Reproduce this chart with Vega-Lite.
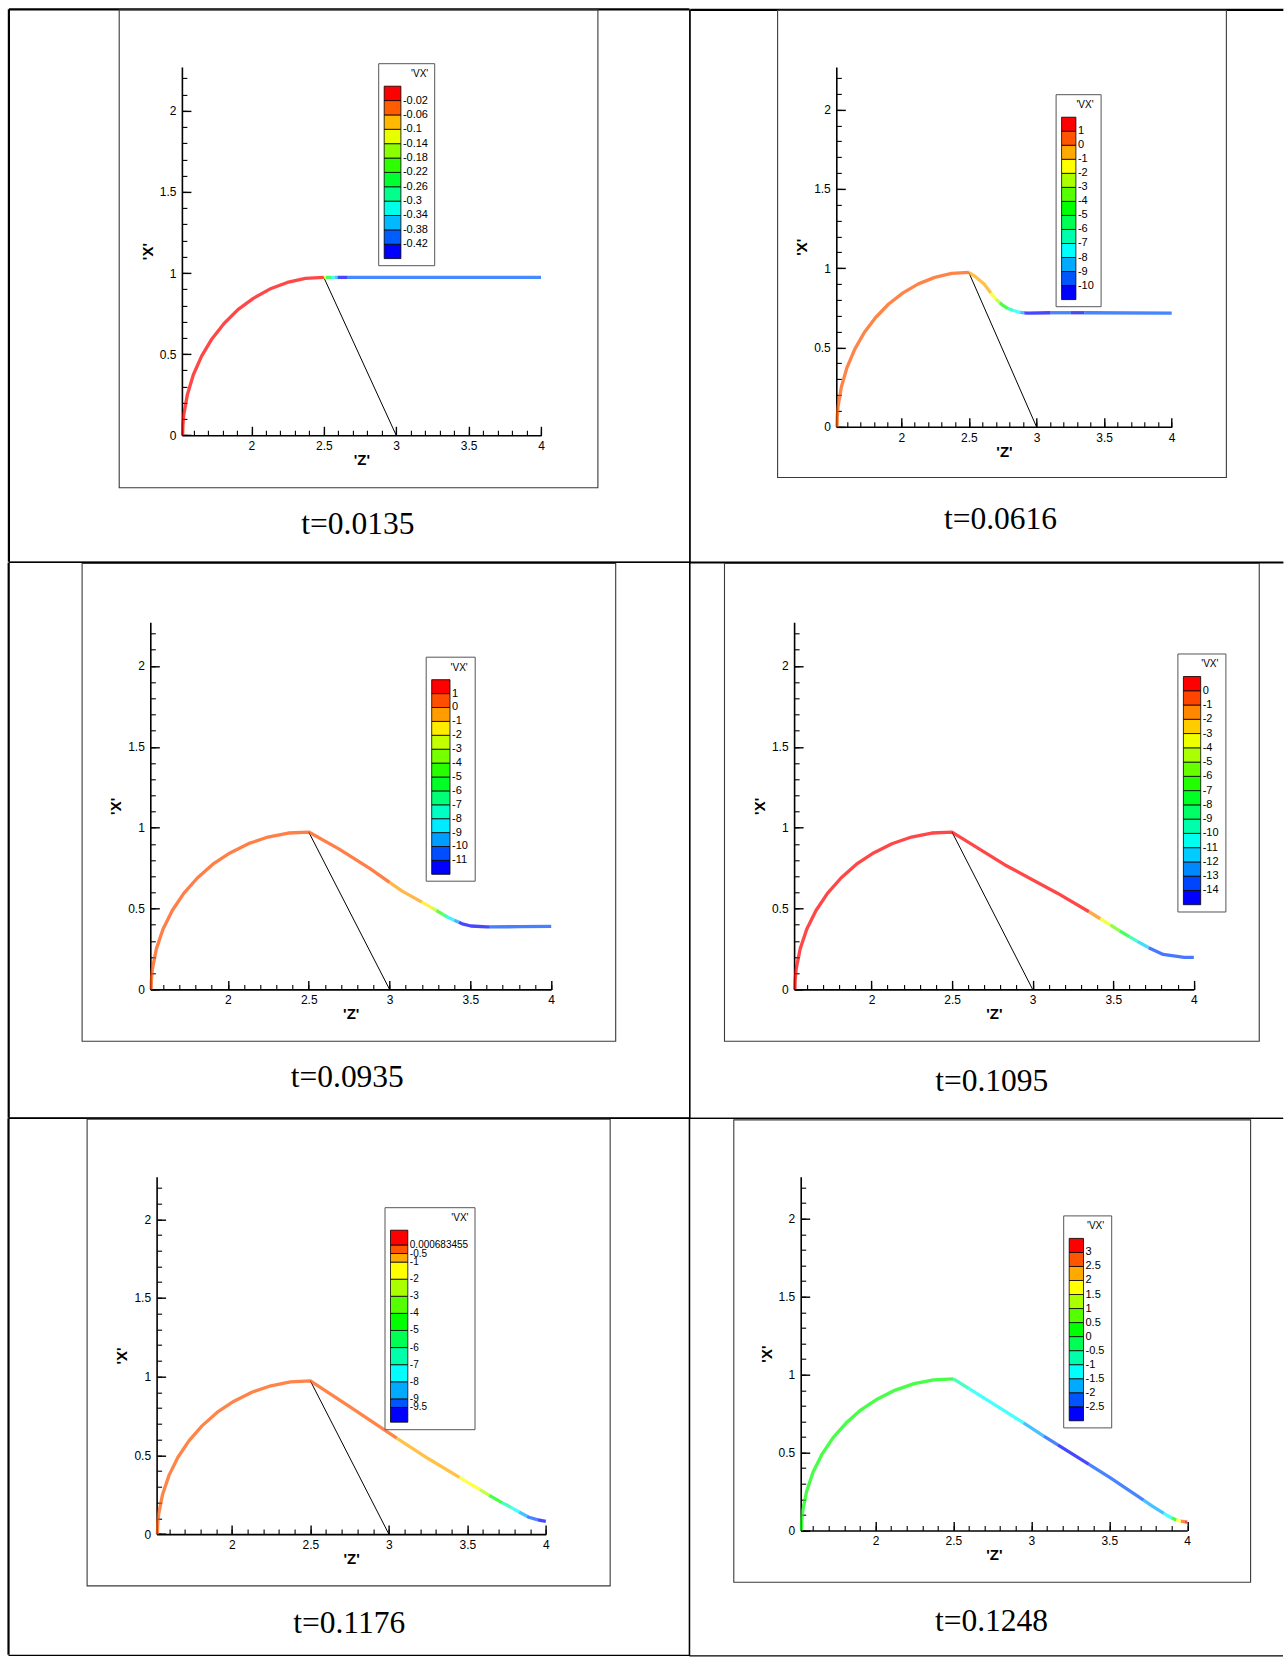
{
  "$schema": "https://vega.github.io/schema/vega-lite/v6.json",
  "background": "white",
  "padding": {"left": 6.5, "top": 7.9, "right": 0, "bottom": 0},
  "spacing": -2.6,
  "resolve": {"scale": {"x": "independent", "y": "independent", "color": "independent"}, "legend": {"color": "independent"}},
  "config": {
    "view": {"stroke": null},
    "axis": {"grid": false, "domainColor": "black", "domainWidth": 1.6, "tickColor": "black", "tickWidth": 1.4, "labelColor": "black", "labelFont": "Liberation Sans", "labelFontSize": 12, "titleColor": "black", "titleFont": "Liberation Sans", "titleFontSize": 15, "titleFontWeight": "bold", "labelFlush": false},
    "legend": {"labelFont": "Liberation Sans", "labelFontSize": 11, "labelColor": "black", "titleFont": "Liberation Sans", "titleFontSize": 10, "titleFontWeight": "normal", "titleColor": "black", "titleAnchor": "end", "titlePadding": 7, "padding": 6, "fillColor": "white", "strokeColor": "#555555", "labelOffset": 4, "labelOverlap": false, "gradientStrokeColor": "black", "gradientStrokeWidth": 0.8}
  },
  "datasets": {
    "link": [{"z": 2.5, "x": 0.973}, {"z": 3, "x": 0}],
    "c1": [
      {"s":"a","z":1.525,"x":0,"vx":-0.01},{"s":"a","z":1.527,"x":0.064,"vx":-0.01},{"s":"a","z":1.533,"x":0.127,"vx":-0.01},{"s":"a","z":1.558,"x":0.252,"vx":-0.01},{"s":"a","z":1.599,"x":0.373,"vx":-0.01},{"s":"a","z":1.656,"x":0.488,"vx":-0.01},{"s":"a","z":1.727,"x":0.594,"vx":-0.01},{"s":"a","z":1.811,"x":0.689,"vx":-0.01},{"s":"a","z":1.907,"x":0.774,"vx":-0.01},{"s":"a","z":2.013,"x":0.844,"vx":-0.01},{"s":"a","z":2.127,"x":0.901,"vx":-0.01},{"s":"a","z":2.248,"x":0.942,"vx":-0.01},{"s":"a","z":2.373,"x":0.967,"vx":-0.01},{"s":"a","z":2.5,"x":0.973,"vx":-0.01},
      {"s":"b","z":2.5,"x":0.973,"vx":-0.12},{"s":"b","z":2.515,"x":0.973,"vx":-0.12},
      {"s":"c","z":2.515,"x":0.973,"vx":-0.24},{"s":"c","z":2.55,"x":0.973,"vx":-0.24},
      {"s":"d","z":2.55,"x":0.973,"vx":-0.32},{"s":"d","z":2.575,"x":0.973,"vx":-0.32},
      {"s":"e","z":2.575,"x":0.973,"vx":-0.36},{"s":"e","z":2.595,"x":0.973,"vx":-0.36},
      {"s":"f","z":2.595,"x":0.973,"vx":-0.44},{"s":"f","z":2.665,"x":0.973,"vx":-0.44},
      {"s":"g","z":2.665,"x":0.973,"vx":-0.4},{"s":"g","z":4,"x":0.973,"vx":-0.4}
    ],
    "c2": [
      {"s":"a","z":1.525,"x":0,"vx":0.5},{"s":"a","z":1.527,"x":0.064,"vx":0.5},{"s":"a","z":1.533,"x":0.127,"vx":0.5},{"s":"a","z":1.558,"x":0.252,"vx":0.5},{"s":"a","z":1.599,"x":0.373,"vx":0.5},{"s":"a","z":1.656,"x":0.488,"vx":0.5},{"s":"a","z":1.727,"x":0.594,"vx":0.5},{"s":"a","z":1.811,"x":0.689,"vx":0.5},{"s":"a","z":1.907,"x":0.774,"vx":0.5},{"s":"a","z":2.013,"x":0.844,"vx":0.5},{"s":"a","z":2.127,"x":0.901,"vx":0.5},{"s":"a","z":2.248,"x":0.942,"vx":0.5},{"s":"a","z":2.373,"x":0.967,"vx":0.5},{"s":"a","z":2.5,"x":0.973,"vx":0.5},
      {"s":"b","z":2.5,"x":0.973,"vx":-0.5},{"s":"b","z":2.54,"x":0.952,"vx":-0.5},{"s":"b","z":2.613,"x":0.9,"vx":-0.5},{"s":"b","z":2.663,"x":0.843,"vx":-0.5},
      {"s":"c","z":2.663,"x":0.843,"vx":-1.5},{"s":"c","z":2.7,"x":0.805,"vx":-1.5},
      {"s":"d","z":2.7,"x":0.805,"vx":-2.5},{"s":"d","z":2.73,"x":0.782,"vx":-2.5},
      {"s":"e","z":2.73,"x":0.782,"vx":-4.5},{"s":"e","z":2.749,"x":0.767,"vx":-4.5},{"s":"e","z":2.79,"x":0.745,"vx":-4.5},
      {"s":"f","z":2.79,"x":0.745,"vx":-6.5},{"s":"f","z":2.83,"x":0.733,"vx":-6.5},
      {"s":"g","z":2.83,"x":0.733,"vx":-7.5},{"s":"g","z":2.86,"x":0.725,"vx":-7.5},{"s":"g","z":2.88,"x":0.721,"vx":-7.5},
      {"s":"h","z":2.88,"x":0.721,"vx":-8.5},{"s":"h","z":2.91,"x":0.718,"vx":-8.5},
      {"s":"i","z":2.91,"x":0.718,"vx":-10.3},{"s":"i","z":2.934,"x":0.717,"vx":-10.3},{"s":"i","z":3.105,"x":0.719,"vx":-10.3},
      {"s":"j","z":3.105,"x":0.719,"vx":-9.5},{"s":"j","z":3.255,"x":0.719,"vx":-9.5},
      {"s":"k","z":3.255,"x":0.719,"vx":-10.3},{"s":"k","z":3.353,"x":0.719,"vx":-10.3},
      {"s":"l","z":3.353,"x":0.719,"vx":-9.5},{"s":"l","z":4,"x":0.717,"vx":-9.5}
    ],
    "c3": [
      {"s":"a","z":1.525,"x":0,"vx":0.5},{"s":"a","z":1.527,"x":0.064,"vx":0.5},{"s":"a","z":1.533,"x":0.127,"vx":0.5},{"s":"a","z":1.558,"x":0.252,"vx":0.5},{"s":"a","z":1.599,"x":0.373,"vx":0.5},{"s":"a","z":1.656,"x":0.488,"vx":0.5},{"s":"a","z":1.727,"x":0.594,"vx":0.5},{"s":"a","z":1.811,"x":0.689,"vx":0.5},{"s":"a","z":1.907,"x":0.774,"vx":0.5},{"s":"a","z":2.013,"x":0.844,"vx":0.5},{"s":"a","z":2.127,"x":0.901,"vx":0.5},{"s":"a","z":2.248,"x":0.942,"vx":0.5},{"s":"a","z":2.373,"x":0.967,"vx":0.5},{"s":"a","z":2.5,"x":0.973,"vx":0.5},{"s":"a","z":2.686,"x":0.869,"vx":0.5},{"s":"a","z":2.882,"x":0.745,"vx":0.5},{"s":"a","z":3.0,"x":0.662,"vx":0.5},
      {"s":"b","z":3.0,"x":0.662,"vx":-0.5},{"s":"b","z":3.078,"x":0.608,"vx":-0.5},{"s":"b","z":3.2,"x":0.54,"vx":-0.5},
      {"s":"c","z":3.2,"x":0.54,"vx":-1.5},{"s":"c","z":3.26,"x":0.506,"vx":-1.5},
      {"s":"d","z":3.26,"x":0.506,"vx":-2.5},{"s":"d","z":3.29,"x":0.488,"vx":-2.5},
      {"s":"e","z":3.29,"x":0.488,"vx":-4.5},{"s":"e","z":3.33,"x":0.464,"vx":-4.5},
      {"s":"f","z":3.33,"x":0.464,"vx":-6.5},{"s":"f","z":3.36,"x":0.446,"vx":-6.5},
      {"s":"g","z":3.36,"x":0.446,"vx":-8.5},{"s":"g","z":3.4,"x":0.428,"vx":-8.5},
      {"s":"h","z":3.4,"x":0.428,"vx":-9.5},{"s":"h","z":3.43,"x":0.415,"vx":-9.5},
      {"s":"i","z":3.43,"x":0.415,"vx":-11.3},{"s":"i","z":3.45,"x":0.405,"vx":-11.3},{"s":"i","z":3.503,"x":0.392,"vx":-11.3},{"s":"i","z":3.601,"x":0.386,"vx":-11.3},{"s":"i","z":3.62,"x":0.386,"vx":-11.3},
      {"s":"j","z":3.62,"x":0.386,"vx":-10.5},{"s":"j","z":3.8,"x":0.388,"vx":-10.5},{"s":"j","z":4,"x":0.39,"vx":-10.5}
    ],
    "c4": [
      {"s":"a","z":1.525,"x":0,"vx":0.3},{"s":"a","z":1.527,"x":0.064,"vx":0.3},{"s":"a","z":1.533,"x":0.127,"vx":0.3},{"s":"a","z":1.558,"x":0.252,"vx":0.3},{"s":"a","z":1.599,"x":0.373,"vx":0.3},{"s":"a","z":1.656,"x":0.488,"vx":0.3},{"s":"a","z":1.727,"x":0.594,"vx":0.3},{"s":"a","z":1.811,"x":0.689,"vx":0.3},{"s":"a","z":1.907,"x":0.774,"vx":0.3},{"s":"a","z":2.013,"x":0.844,"vx":0.3},{"s":"a","z":2.127,"x":0.901,"vx":0.3},{"s":"a","z":2.248,"x":0.942,"vx":0.3},{"s":"a","z":2.373,"x":0.967,"vx":0.3},{"s":"a","z":2.5,"x":0.973,"vx":0.3},{"s":"a","z":2.826,"x":0.771,"vx":0.3},{"s":"a","z":3.154,"x":0.595,"vx":0.3},{"s":"a","z":3.35,"x":0.48,"vx":0.3},
      {"s":"b","z":3.35,"x":0.48,"vx":-1.5},{"s":"b","z":3.42,"x":0.437,"vx":-1.5},
      {"s":"c","z":3.42,"x":0.437,"vx":-3.5},{"s":"c","z":3.482,"x":0.399,"vx":-3.5},
      {"s":"d","z":3.482,"x":0.399,"vx":-5.5},{"s":"d","z":3.54,"x":0.362,"vx":-5.5},
      {"s":"e","z":3.54,"x":0.362,"vx":-7.5},{"s":"e","z":3.6,"x":0.326,"vx":-7.5},
      {"s":"f","z":3.6,"x":0.326,"vx":-9.5},{"s":"f","z":3.65,"x":0.297,"vx":-9.5},
      {"s":"g","z":3.65,"x":0.297,"vx":-11.5},{"s":"g","z":3.679,"x":0.281,"vx":-11.5},{"s":"g","z":3.72,"x":0.258,"vx":-11.5},
      {"s":"h","z":3.72,"x":0.258,"vx":-13.5},{"s":"h","z":3.81,"x":0.216,"vx":-13.5},{"s":"h","z":3.94,"x":0.198,"vx":-13.5},{"s":"h","z":4,"x":0.198,"vx":-13.5}
    ],
    "c5": [
      {"s":"a","z":1.525,"x":0,"vx":-0.25},{"s":"a","z":1.527,"x":0.064,"vx":-0.25},{"s":"a","z":1.533,"x":0.127,"vx":-0.25},{"s":"a","z":1.558,"x":0.252,"vx":-0.25},{"s":"a","z":1.599,"x":0.373,"vx":-0.25},{"s":"a","z":1.656,"x":0.488,"vx":-0.25},{"s":"a","z":1.727,"x":0.594,"vx":-0.25},{"s":"a","z":1.811,"x":0.689,"vx":-0.25},{"s":"a","z":1.907,"x":0.774,"vx":-0.25},{"s":"a","z":2.013,"x":0.844,"vx":-0.25},{"s":"a","z":2.127,"x":0.901,"vx":-0.25},{"s":"a","z":2.248,"x":0.942,"vx":-0.25},{"s":"a","z":2.373,"x":0.967,"vx":-0.25},{"s":"a","z":2.5,"x":0.973,"vx":-0.25},{"s":"a","z":2.75,"x":0.81,"vx":-0.25},{"s":"a","z":3.05,"x":0.61,"vx":-0.25},
      {"s":"b","z":3.05,"x":0.61,"vx":-0.75},{"s":"b","z":3.25,"x":0.48,"vx":-0.75},{"s":"b","z":3.45,"x":0.36,"vx":-0.75},
      {"s":"c","z":3.45,"x":0.36,"vx":-1.5},{"s":"c","z":3.502,"x":0.329,"vx":-1.5},{"s":"c","z":3.58,"x":0.283,"vx":-1.5},
      {"s":"d","z":3.58,"x":0.283,"vx":-2.5},{"s":"d","z":3.64,"x":0.246,"vx":-2.5},
      {"s":"e","z":3.64,"x":0.246,"vx":-4.5},{"s":"e","z":3.72,"x":0.2,"vx":-4.5},
      {"s":"f","z":3.72,"x":0.2,"vx":-6.5},{"s":"f","z":3.758,"x":0.181,"vx":-6.5},{"s":"f","z":3.78,"x":0.168,"vx":-6.5},
      {"s":"g","z":3.78,"x":0.168,"vx":-7.5},{"s":"g","z":3.83,"x":0.14,"vx":-7.5},
      {"s":"h","z":3.83,"x":0.14,"vx":-8.5},{"s":"h","z":3.88,"x":0.113,"vx":-8.5},
      {"s":"i","z":3.88,"x":0.113,"vx":-9.2},{"s":"i","z":3.892,"x":0.107,"vx":-9.2},{"s":"i","z":3.95,"x":0.09,"vx":-9.2},
      {"s":"j","z":3.95,"x":0.09,"vx":-9.7},{"s":"j","z":4,"x":0.081,"vx":-9.7}
    ],
    "c6": [
      {"s":"a","z":1.525,"x":0,"vx":0.25},{"s":"a","z":1.527,"x":0.064,"vx":0.25},{"s":"a","z":1.533,"x":0.127,"vx":0.25},{"s":"a","z":1.558,"x":0.252,"vx":0.25},{"s":"a","z":1.599,"x":0.373,"vx":0.25},{"s":"a","z":1.656,"x":0.488,"vx":0.25},{"s":"a","z":1.727,"x":0.594,"vx":0.25},{"s":"a","z":1.811,"x":0.689,"vx":0.25},{"s":"a","z":1.907,"x":0.774,"vx":0.25},{"s":"a","z":2.013,"x":0.844,"vx":0.25},{"s":"a","z":2.127,"x":0.901,"vx":0.25},{"s":"a","z":2.248,"x":0.942,"vx":0.25},{"s":"a","z":2.373,"x":0.967,"vx":0.25},{"s":"a","z":2.5,"x":0.973,"vx":0.25},
      {"s":"b","z":2.5,"x":0.973,"vx":-0.75},{"s":"b","z":2.6,"x":0.91,"vx":-0.75},
      {"s":"c","z":2.6,"x":0.91,"vx":-1.25},{"s":"c","z":2.8,"x":0.785,"vx":-1.25},{"s":"c","z":2.95,"x":0.69,"vx":-1.25},
      {"s":"d","z":2.95,"x":0.69,"vx":-1.75},{"s":"d","z":3.08,"x":0.605,"vx":-1.75},
      {"s":"e","z":3.08,"x":0.605,"vx":-2.25},{"s":"e","z":3.17,"x":0.549,"vx":-2.25},
      {"s":"f","z":3.17,"x":0.549,"vx":-2.75},{"s":"f","z":3.37,"x":0.424,"vx":-2.75},
      {"s":"g","z":3.37,"x":0.424,"vx":-2.25},{"s":"g","z":3.505,"x":0.339,"vx":-2.25},{"s":"g","z":3.72,"x":0.195,"vx":-2.25},
      {"s":"h","z":3.72,"x":0.195,"vx":-1.75},{"s":"h","z":3.776,"x":0.156,"vx":-1.75},{"s":"h","z":3.85,"x":0.11,"vx":-1.75},
      {"s":"i","z":3.85,"x":0.11,"vx":-1.25},{"s":"i","z":3.9,"x":0.08,"vx":-1.25},
      {"s":"j","z":3.9,"x":0.08,"vx":0.25},{"s":"j","z":3.93,"x":0.068,"vx":0.25},
      {"s":"k","z":3.93,"x":0.068,"vx":1.75},{"s":"k","z":3.96,"x":0.06,"vx":1.75},
      {"s":"l","z":3.96,"x":0.06,"vx":2.75},{"s":"l","z":3.985,"x":0.056,"vx":2.75},
      {"s":"m","z":3.985,"x":0.056,"vx":3.2},{"s":"m","z":4,"x":0.054,"vx":3.2}
    ]
  },
  "vconcat": [
    {
      "spacing": -2.6,
      "resolve": {"scale": {"x": "independent", "y": "independent", "color": "independent"}, "legend": {"color": "independent"}},
      "hconcat": [
        {"width": 2, "height": 1, "data": {"values": []}, "mark": "point", "encoding": {}},
        {
          "width": 359.1, "height": 368.4,
          "data": {"values": [{}]},
          "resolve": {"axis": {"x": "independent", "y": "independent"}},
          "layer": [
            {"mark": {"type": "rule", "color": "black", "strokeWidth": 2.2}, "encoding": {"x": {"datum": 0.3252, "type": "quantitative", "scale": {"domain": [1.52, 4], "nice": false, "zero": false}, "axis": null}, "x2": {"datum": 5.0252}, "y": {"datum": 2.6248, "type": "quantitative", "scale": {"domain": [0, 2.27], "nice": false, "zero": false}, "axis": null}}},
            {"mark": {"type": "rule", "color": "black", "strokeWidth": 2.2}, "encoding": {"x": {"datum": 0.3252, "type": "quantitative", "scale": {"domain": [1.52, 4], "nice": false, "zero": false}, "axis": null}, "y": {"datum": -0.7797, "type": "quantitative", "scale": {"domain": [0, 2.27], "nice": false, "zero": false}, "axis": null}, "y2": {"datum": 2.6248}}},
            {"mark": {"type": "rule", "color": "black", "strokeWidth": 1.3}, "encoding": {"x": {"datum": 5.0283, "type": "quantitative", "scale": {"domain": [1.52, 4], "nice": false, "zero": false}, "axis": null}, "y": {"datum": -0.7825, "type": "quantitative", "scale": {"domain": [0, 2.27], "nice": false, "zero": false}, "axis": null}, "y2": {"datum": 2.6248}}},
            {"mark": {"type": "rule", "color": "black", "strokeWidth": 1.3}, "encoding": {"x": {"datum": 0.3252, "type": "quantitative", "scale": {"domain": [1.52, 4], "nice": false, "zero": false}, "axis": null}, "x2": {"datum": 5.0283}, "y": {"datum": -0.7825, "type": "quantitative", "scale": {"domain": [0, 2.27], "nice": false, "zero": false}, "axis": null}}},
            {"mark": {"type": "rect", "filled": false, "stroke": "#3a3a3a", "strokeWidth": 1.1}, "encoding": {"x": {"datum": 1.087, "type": "quantitative", "scale": {"domain": [1.52, 4], "nice": false, "zero": false}, "axis": {"orient": "bottom", "title": null, "labels": false, "domain": false, "tickCount": 25, "tickSize": -5, "tickWidth": 1.1}}, "x2": {"datum": 4.3929}, "y": {"datum": -0.3235, "type": "quantitative", "scale": {"domain": [0, 2.27], "nice": false, "zero": false}, "axis": {"orient": "left", "title": null, "labels": false, "domain": false, "tickCount": 23, "tickSize": -5, "tickWidth": 1.1}}, "y2": {"datum": 2.6217}}},
            {"mark": {"type": "text", "font": "Liberation Serif", "fontSize": 31.5, "align": "center", "baseline": "middle", "color": "black"}, "encoding": {"x": {"datum": 2.7355, "type": "quantitative", "scale": {"domain": [1.52, 4], "nice": false, "zero": false}, "axis": null}, "y": {"datum": -0.5545, "type": "quantitative", "scale": {"domain": [0, 2.27], "nice": false, "zero": false}, "axis": null}, "text": {"value": "t=0.0135"}}},
            {"data": {"name": "link"}, "mark": {"type": "line", "color": "black", "strokeWidth": 1}, "encoding": {"x": {"field": "z", "type": "quantitative", "scale": {"domain": [1.52, 4], "nice": false, "zero": false}, "axis": null}, "y": {"field": "x", "type": "quantitative", "scale": {"domain": [0, 2.27], "nice": false, "zero": false}, "axis": null}}},
            {"data": {"name": "c1"}, "mark": {"type": "line", "strokeWidth": 3.3, "strokeOpacity": 0.72, "strokeCap": "butt", "strokeJoin": "round"},
             "encoding": {
               "x": {"field": "z", "type": "quantitative", "scale": {"domain": [1.52, 4], "nice": false, "zero": false}, "axis": {"orient": "bottom", "title": "'Z'", "tickCount": 5, "format": "~g", "tickSize": -9, "labelPadding": 14.5, "titlePadding": 1}},
               "y": {"field": "x", "type": "quantitative", "scale": {"domain": [0, 2.27], "nice": false, "zero": false}, "axis": {"orient": "left", "title": "'X'", "tickCount": 5, "format": "~g", "tickSize": -9, "labelPadding": 15, "titlePadding": 4}},
               "detail": {"field": "s", "type": "nominal"},
               "color": {"field": "vx", "type": "quantitative",
                 "scale": {"type": "threshold", "domain": [-0.42, -0.38, -0.34, -0.3, -0.26, -0.22, -0.18, -0.14, -0.1, -0.06, -0.02], "range": ["#0000ff", "#005dff", "#00b9ff", "#00ffe8", "#00ff8b", "#00ff2e", "#2eff00", "#8bff00", "#e8ff00", "#ffb900", "#ff5d00", "#ff0000"]},
                 "legend": {"type": "gradient", "title": "'VX'", "orient": "none", "legendX": 196.3, "legendY": -3.7, "direction": "vertical", "gradientLength": 172.4, "gradientThickness": 16.7, "format": "~g", "labelExpr": "datum.value == null || !isFinite(datum.value) ? '' : replace(datum.label, '−', '-')", "encode": {"gradient": {"opacity": {"value": 1}, "stroke": {"value": "black"}, "strokeWidth": {"value": 0.8}}}}}
             }}
          ]
        },
        {
          "width": 335.4, "height": 359.8,
          "data": {"values": [{}]},
          "resolve": {"axis": {"x": "independent", "y": "independent"}},
          "layer": [
            {"mark": {"type": "rule", "color": "black", "strokeWidth": 2.2}, "encoding": {"x": {"datum": 0.4409, "type": "quantitative", "scale": {"domain": [1.52, 4], "nice": false, "zero": false}, "axis": null}, "x2": {"datum": 4.8257}, "y": {"datum": 2.63, "type": "quantitative", "scale": {"domain": [0, 2.27], "nice": false, "zero": false}, "axis": null}}},
            {"mark": {"type": "rule", "color": "black", "strokeWidth": 1.3}, "encoding": {"x": {"datum": 0.4376, "type": "quantitative", "scale": {"domain": [1.52, 4], "nice": false, "zero": false}, "axis": null}, "y": {"datum": -0.859, "type": "quantitative", "scale": {"domain": [0, 2.27], "nice": false, "zero": false}, "axis": null}, "y2": {"datum": 2.63}}},
            {"mark": {"type": "rule", "color": "black", "strokeWidth": 1.3}, "encoding": {"x": {"datum": 0.4376, "type": "quantitative", "scale": {"domain": [1.52, 4], "nice": false, "zero": false}, "axis": null}, "x2": {"datum": 4.8257}, "y": {"datum": -0.859, "type": "quantitative", "scale": {"domain": [0, 2.27], "nice": false, "zero": false}, "axis": null}}},
            {"mark": {"type": "rect", "filled": false, "stroke": "#3a3a3a", "strokeWidth": 1.1}, "encoding": {"x": {"datum": 1.086, "type": "quantitative", "scale": {"domain": [1.52, 4], "nice": false, "zero": false}, "axis": {"orient": "bottom", "title": null, "labels": false, "domain": false, "tickCount": 25, "tickSize": -5, "tickWidth": 1.1}}, "x2": {"datum": 4.4043}, "y": {"datum": -0.3202, "type": "quantitative", "scale": {"domain": [0, 2.27], "nice": false, "zero": false}, "axis": {"orient": "left", "title": null, "labels": false, "domain": false, "tickCount": 23, "tickSize": -5, "tickWidth": 1.1}}, "y2": {"datum": 2.6268}}},
            {"mark": {"type": "text", "font": "Liberation Serif", "fontSize": 31.5, "align": "center", "baseline": "middle", "color": "black"}, "encoding": {"x": {"datum": 2.7341, "type": "quantitative", "scale": {"domain": [1.52, 4], "nice": false, "zero": false}, "axis": null}, "y": {"datum": -0.5864, "type": "quantitative", "scale": {"domain": [0, 2.27], "nice": false, "zero": false}, "axis": null}, "text": {"value": "t=0.0616"}}},
            {"data": {"name": "link"}, "mark": {"type": "line", "color": "black", "strokeWidth": 1}, "encoding": {"x": {"field": "z", "type": "quantitative", "scale": {"domain": [1.52, 4], "nice": false, "zero": false}, "axis": null}, "y": {"field": "x", "type": "quantitative", "scale": {"domain": [0, 2.27], "nice": false, "zero": false}, "axis": null}}},
            {"data": {"name": "c2"}, "mark": {"type": "line", "strokeWidth": 3.3, "strokeOpacity": 0.72, "strokeCap": "butt", "strokeJoin": "round"},
             "encoding": {
               "x": {"field": "z", "type": "quantitative", "scale": {"domain": [1.52, 4], "nice": false, "zero": false}, "axis": {"orient": "bottom", "title": "'Z'", "tickCount": 5, "format": "~g", "tickSize": -9, "labelPadding": 14.5, "titlePadding": 1}},
               "y": {"field": "x", "type": "quantitative", "scale": {"domain": [0, 2.27], "nice": false, "zero": false}, "axis": {"orient": "left", "title": "'X'", "tickCount": 5, "format": "~g", "tickSize": -9, "labelPadding": 15, "titlePadding": 4}},
               "detail": {"field": "s", "type": "nominal"},
               "color": {"field": "vx", "type": "quantitative",
                 "scale": {"type": "threshold", "domain": [-10, -9, -8, -7, -6, -5, -4, -3, -2, -1, 0, 1], "range": ["#0000ff", "#0055ff", "#00aaff", "#00ffff", "#00ffaa", "#00ff55", "#00ff00", "#55ff00", "#aaff00", "#ffff00", "#ffaa00", "#ff5500", "#ff0000"]},
                 "legend": {"type": "gradient", "title": "'VX'", "orient": "none", "legendX": 219.3, "legendY": 27.3, "direction": "vertical", "gradientLength": 182.4, "gradientThickness": 14.3, "format": "~g", "labelExpr": "datum.value == null || !isFinite(datum.value) ? '' : replace(datum.label, '−', '-')", "encode": {"gradient": {"opacity": {"value": 1}, "stroke": {"value": "black"}, "strokeWidth": {"value": 0.8}}}}}
             }}
          ]
        }
      ]
    },
    {
      "spacing": -3.2,
      "resolve": {"scale": {"x": "independent", "y": "independent", "color": "independent"}, "legend": {"color": "independent"}},
      "hconcat": [
        {"width": 3, "height": 1, "data": {"values": []}, "mark": "point", "encoding": {}},
        {
          "width": 400.9, "height": 367.1,
          "data": {"values": [{}]},
          "resolve": {"axis": {"x": "independent", "y": "independent"}},
          "layer": [
            {"mark": {"type": "rule", "color": "black", "strokeWidth": 1.3}, "encoding": {"x": {"datum": 0.644, "type": "quantitative", "scale": {"domain": [1.52, 4], "nice": false, "zero": false}, "axis": null}, "x2": {"datum": 4.8568}, "y": {"datum": 2.6413, "type": "quantitative", "scale": {"domain": [0, 2.27], "nice": false, "zero": false}, "axis": null}}},
            {"mark": {"type": "rule", "color": "black", "strokeWidth": 2.2}, "encoding": {"x": {"datum": 0.644, "type": "quantitative", "scale": {"domain": [1.52, 4], "nice": false, "zero": false}, "axis": null}, "y": {"datum": -0.7944, "type": "quantitative", "scale": {"domain": [0, 2.27], "nice": false, "zero": false}, "axis": null}, "y2": {"datum": 2.6385}}},
            {"mark": {"type": "rule", "color": "black", "strokeWidth": 1.3}, "encoding": {"x": {"datum": 4.8568, "type": "quantitative", "scale": {"domain": [1.52, 4], "nice": false, "zero": false}, "axis": null}, "y": {"datum": -0.7972, "type": "quantitative", "scale": {"domain": [0, 2.27], "nice": false, "zero": false}, "axis": null}, "y2": {"datum": 2.6413}}},
            {"mark": {"type": "rule", "color": "black", "strokeWidth": 1.3}, "encoding": {"x": {"datum": 0.644, "type": "quantitative", "scale": {"domain": [1.52, 4], "nice": false, "zero": false}, "axis": null}, "x2": {"datum": 4.8568}, "y": {"datum": -0.7972, "type": "quantitative", "scale": {"domain": [0, 2.27], "nice": false, "zero": false}, "axis": null}}},
            {"mark": {"type": "rect", "filled": false, "stroke": "#3a3a3a", "strokeWidth": 1.1}, "encoding": {"x": {"datum": 1.0981, "type": "quantitative", "scale": {"domain": [1.52, 4], "nice": false, "zero": false}, "axis": {"orient": "bottom", "title": null, "labels": false, "domain": false, "tickCount": 25, "tickSize": -5, "tickWidth": 1.1}}, "x2": {"datum": 4.399}, "y": {"datum": -0.3203, "type": "quantitative", "scale": {"domain": [0, 2.27], "nice": false, "zero": false}, "axis": {"orient": "left", "title": null, "labels": false, "domain": false, "tickCount": 23, "tickSize": -5, "tickWidth": 1.1}}, "y2": {"datum": 2.6339}}},
            {"mark": {"type": "text", "font": "Liberation Serif", "fontSize": 31.5, "align": "center", "baseline": "middle", "color": "black"}, "encoding": {"x": {"datum": 2.7387, "type": "quantitative", "scale": {"domain": [1.52, 4], "nice": false, "zero": false}, "axis": null}, "y": {"datum": -0.5485, "type": "quantitative", "scale": {"domain": [0, 2.27], "nice": false, "zero": false}, "axis": null}, "text": {"value": "t=0.0935"}}},
            {"data": {"name": "link"}, "mark": {"type": "line", "color": "black", "strokeWidth": 1}, "encoding": {"x": {"field": "z", "type": "quantitative", "scale": {"domain": [1.52, 4], "nice": false, "zero": false}, "axis": null}, "y": {"field": "x", "type": "quantitative", "scale": {"domain": [0, 2.27], "nice": false, "zero": false}, "axis": null}}},
            {"data": {"name": "c3"}, "mark": {"type": "line", "strokeWidth": 3.3, "strokeOpacity": 0.72, "strokeCap": "butt", "strokeJoin": "round"},
             "encoding": {
               "x": {"field": "z", "type": "quantitative", "scale": {"domain": [1.52, 4], "nice": false, "zero": false}, "axis": {"orient": "bottom", "title": "'Z'", "tickCount": 5, "format": "~g", "tickSize": -9, "labelPadding": 14.5, "titlePadding": 1}},
               "y": {"field": "x", "type": "quantitative", "scale": {"domain": [0, 2.27], "nice": false, "zero": false}, "axis": {"orient": "left", "title": "'X'", "tickCount": 5, "format": "~g", "tickSize": -9, "labelPadding": 15, "titlePadding": 4}},
               "detail": {"field": "s", "type": "nominal"},
               "color": {"field": "vx", "type": "quantitative",
                 "scale": {"type": "threshold", "domain": [-11, -10, -9, -8, -7, -6, -5, -4, -3, -2, -1, 0, 1], "range": ["#0000ff", "#004eff", "#009dff", "#00ebff", "#00ffc4", "#00ff76", "#00ff27", "#27ff00", "#76ff00", "#c4ff00", "#ffeb00", "#ff9d00", "#ff4e00", "#ff0000"]},
                 "legend": {"type": "gradient", "title": "'VX'", "orient": "none", "legendX": 275.4, "legendY": 34.4, "direction": "vertical", "gradientLength": 194.6, "gradientThickness": 18.3, "format": "~g", "labelExpr": "datum.value == null || !isFinite(datum.value) ? '' : replace(datum.label, '−', '-')", "encode": {"gradient": {"opacity": {"value": 1}, "stroke": {"value": "black"}, "strokeWidth": {"value": 0.8}}}}}
             }}
          ]
        },
        {
          "width": 399.7, "height": 367.1,
          "data": {"values": [{}]},
          "resolve": {"axis": {"x": "independent", "y": "independent"}},
          "layer": [
            {"mark": {"type": "rule", "color": "black", "strokeWidth": 1.3}, "encoding": {"x": {"datum": 0.8722, "type": "quantitative", "scale": {"domain": [1.52, 4], "nice": false, "zero": false}, "axis": null}, "x2": {"datum": 4.5551}, "y": {"datum": 2.6413, "type": "quantitative", "scale": {"domain": [0, 2.27], "nice": false, "zero": false}, "axis": null}}},
            {"mark": {"type": "rule", "color": "black", "strokeWidth": 1.3}, "encoding": {"x": {"datum": 0.8722, "type": "quantitative", "scale": {"domain": [1.52, 4], "nice": false, "zero": false}, "axis": null}, "y": {"datum": -0.7972, "type": "quantitative", "scale": {"domain": [0, 2.27], "nice": false, "zero": false}, "axis": null}, "y2": {"datum": 2.6413}}},
            {"mark": {"type": "rule", "color": "black", "strokeWidth": 1.3}, "encoding": {"x": {"datum": 0.8722, "type": "quantitative", "scale": {"domain": [1.52, 4], "nice": false, "zero": false}, "axis": null}, "x2": {"datum": 4.5551}, "y": {"datum": -0.7972, "type": "quantitative", "scale": {"domain": [0, 2.27], "nice": false, "zero": false}, "axis": null}}},
            {"mark": {"type": "rect", "filled": false, "stroke": "#3a3a3a", "strokeWidth": 1.1}, "encoding": {"x": {"datum": 1.0881, "type": "quantitative", "scale": {"domain": [1.52, 4], "nice": false, "zero": false}, "axis": {"orient": "bottom", "title": null, "labels": false, "domain": false, "tickCount": 25, "tickSize": -5, "tickWidth": 1.1}}, "x2": {"datum": 4.4061}, "y": {"datum": -0.321, "type": "quantitative", "scale": {"domain": [0, 2.27], "nice": false, "zero": false}, "axis": {"orient": "left", "title": null, "labels": false, "domain": false, "tickCount": 23, "tickSize": -5, "tickWidth": 1.1}}, "y2": {"datum": 2.6339}}},
            {"mark": {"type": "text", "font": "Liberation Serif", "fontSize": 31.5, "align": "center", "baseline": "middle", "color": "black"}, "encoding": {"x": {"datum": 2.7462, "type": "quantitative", "scale": {"domain": [1.52, 4], "nice": false, "zero": false}, "axis": null}, "y": {"datum": -0.5745, "type": "quantitative", "scale": {"domain": [0, 2.27], "nice": false, "zero": false}, "axis": null}, "text": {"value": "t=0.1095"}}},
            {"data": {"name": "link"}, "mark": {"type": "line", "color": "black", "strokeWidth": 1}, "encoding": {"x": {"field": "z", "type": "quantitative", "scale": {"domain": [1.52, 4], "nice": false, "zero": false}, "axis": null}, "y": {"field": "x", "type": "quantitative", "scale": {"domain": [0, 2.27], "nice": false, "zero": false}, "axis": null}}},
            {"data": {"name": "c4"}, "mark": {"type": "line", "strokeWidth": 3.3, "strokeOpacity": 0.72, "strokeCap": "butt", "strokeJoin": "round"},
             "encoding": {
               "x": {"field": "z", "type": "quantitative", "scale": {"domain": [1.52, 4], "nice": false, "zero": false}, "axis": {"orient": "bottom", "title": "'Z'", "tickCount": 5, "format": "~g", "tickSize": -9, "labelPadding": 14.5, "titlePadding": 1}},
               "y": {"field": "x", "type": "quantitative", "scale": {"domain": [0, 2.27], "nice": false, "zero": false}, "axis": {"orient": "left", "title": "'X'", "tickCount": 5, "format": "~g", "tickSize": -9, "labelPadding": 15, "titlePadding": 4}},
               "detail": {"field": "s", "type": "nominal"},
               "color": {"field": "vx", "type": "quantitative",
                 "scale": {"type": "threshold", "domain": [-14, -13, -12, -11, -10, -9, -8, -7, -6, -5, -4, -3, -2, -1, 0], "range": ["#0000ff", "#0044ff", "#0088ff", "#00ccff", "#00ffee", "#00ffaa", "#00ff66", "#00ff22", "#22ff00", "#66ff00", "#aaff00", "#eeff00", "#ffcc00", "#ff8800", "#ff4400", "#ff0000"]},
                 "legend": {"type": "gradient", "title": "'VX'", "orient": "none", "legendX": 383.3, "legendY": 31.2, "direction": "vertical", "gradientLength": 228.2, "gradientThickness": 17.3, "format": "~g", "labelExpr": "datum.value == null || !isFinite(datum.value) ? '' : replace(datum.label, '−', '-')", "encode": {"gradient": {"opacity": {"value": 1}, "stroke": {"value": "black"}, "strokeWidth": {"value": 0.8}}}}}
             }}
          ]
        }
      ]
    },
    {
      "spacing": -1.9,
      "resolve": {"scale": {"x": "independent", "y": "independent", "color": "independent"}, "legend": {"color": "independent"}},
      "hconcat": [
        {"width": 1, "height": 1, "data": {"values": []}, "mark": "point", "encoding": {}},
        {
          "width": 389.2, "height": 357.4,
          "data": {"values": [{}]},
          "resolve": {"axis": {"x": "independent", "y": "independent"}},
          "layer": [
            {"mark": {"type": "rule", "color": "black", "strokeWidth": 1.3}, "encoding": {"x": {"datum": 0.5764, "type": "quantitative", "scale": {"domain": [1.52, 4], "nice": false, "zero": false}, "axis": null}, "x2": {"datum": 4.9154}, "y": {"datum": 2.644, "type": "quantitative", "scale": {"domain": [0, 2.27], "nice": false, "zero": false}, "axis": null}}},
            {"mark": {"type": "rule", "color": "black", "strokeWidth": 2.2}, "encoding": {"x": {"datum": 0.5764, "type": "quantitative", "scale": {"domain": [1.52, 4], "nice": false, "zero": false}, "axis": null}, "y": {"datum": -0.7669, "type": "quantitative", "scale": {"domain": [0, 2.27], "nice": false, "zero": false}, "axis": null}, "y2": {"datum": 2.6412}}},
            {"mark": {"type": "rule", "color": "black", "strokeWidth": 1.3}, "encoding": {"x": {"datum": 4.9154, "type": "quantitative", "scale": {"domain": [1.52, 4], "nice": false, "zero": false}, "axis": null}, "y": {"datum": -0.7698, "type": "quantitative", "scale": {"domain": [0, 2.27], "nice": false, "zero": false}, "axis": null}, "y2": {"datum": 2.644}}},
            {"mark": {"type": "rule", "color": "black", "strokeWidth": 1.3}, "encoding": {"x": {"datum": 0.5764, "type": "quantitative", "scale": {"domain": [1.52, 4], "nice": false, "zero": false}, "axis": null}, "x2": {"datum": 4.9154}, "y": {"datum": -0.7698, "type": "quantitative", "scale": {"domain": [0, 2.27], "nice": false, "zero": false}, "axis": null}}},
            {"mark": {"type": "rect", "filled": false, "stroke": "#3a3a3a", "strokeWidth": 1.1}, "encoding": {"x": {"datum": 1.0772, "type": "quantitative", "scale": {"domain": [1.52, 4], "nice": false, "zero": false}, "axis": {"orient": "bottom", "title": null, "labels": false, "domain": false, "tickCount": 25, "tickSize": -5, "tickWidth": 1.1}}, "x2": {"datum": 4.4101}, "y": {"datum": -0.329, "type": "quantitative", "scale": {"domain": [0, 2.27], "nice": false, "zero": false}, "axis": {"orient": "left", "title": null, "labels": false, "domain": false, "tickCount": 23, "tickSize": -5, "tickWidth": 1.1}}, "y2": {"datum": 2.6345}}},
            {"mark": {"type": "text", "font": "Liberation Serif", "fontSize": 31.5, "align": "center", "baseline": "middle", "color": "black"}, "encoding": {"x": {"datum": 2.7471, "type": "quantitative", "scale": {"domain": [1.52, 4], "nice": false, "zero": false}, "axis": null}, "y": {"datum": -0.5697, "type": "quantitative", "scale": {"domain": [0, 2.27], "nice": false, "zero": false}, "axis": null}, "text": {"value": "t=0.1176"}}},
            {"data": {"name": "link"}, "mark": {"type": "line", "color": "black", "strokeWidth": 1}, "encoding": {"x": {"field": "z", "type": "quantitative", "scale": {"domain": [1.52, 4], "nice": false, "zero": false}, "axis": null}, "y": {"field": "x", "type": "quantitative", "scale": {"domain": [0, 2.27], "nice": false, "zero": false}, "axis": null}}},
            {"data": {"name": "c5"}, "mark": {"type": "line", "strokeWidth": 3.3, "strokeOpacity": 0.72, "strokeCap": "butt", "strokeJoin": "round"},
             "encoding": {
               "x": {"field": "z", "type": "quantitative", "scale": {"domain": [1.52, 4], "nice": false, "zero": false}, "axis": {"orient": "bottom", "title": "'Z'", "tickCount": 5, "format": "~g", "tickSize": -9, "labelPadding": 14.5, "titlePadding": 1}},
               "y": {"field": "x", "type": "quantitative", "scale": {"domain": [0, 2.27], "nice": false, "zero": false}, "axis": {"orient": "left", "title": "'X'", "tickCount": 5, "format": "~g", "tickSize": -9, "labelPadding": 15, "titlePadding": 4}},
               "detail": {"field": "s", "type": "nominal"},
               "color": {"field": "vx", "type": "quantitative",
                 "scale": {"type": "threshold", "domain": [-9.5, -9, -8, -7, -6, -5, -4, -3, -2, -1, -0.5, 0.000683455], "range": ["#0000ff", "#0055ff", "#00aaff", "#00ffff", "#00ffaa", "#00ff55", "#00ff00", "#55ff00", "#aaff00", "#ffff00", "#ffaa00", "#ff5500", "#ff0000"]},
                 "legend": {"type": "gradient", "title": "'VX'", "orient": "none", "legendX": 227.9, "legendY": 30.5, "direction": "vertical", "gradientLength": 192, "gradientThickness": 17.3, "labelFontSize": 10, "format": "~g", "labelExpr": "datum.value == null || !isFinite(datum.value) ? '' : replace(datum.label, '−', '-')", "encode": {"gradient": {"opacity": {"value": 1}, "stroke": {"value": "black"}, "strokeWidth": {"value": 0.8}}}}}
             }}
          ]
        },
        {
          "width": 386.5, "height": 353.8,
          "data": {"values": [{}]},
          "resolve": {"axis": {"x": "independent", "y": "independent"}},
          "layer": [
            {"mark": {"type": "rule", "color": "black", "strokeWidth": 1.3}, "encoding": {"x": {"datum": 0.8065, "type": "quantitative", "scale": {"domain": [1.52, 4], "nice": false, "zero": false}, "axis": null}, "x2": {"datum": 4.6146}, "y": {"datum": 2.6442, "type": "quantitative", "scale": {"domain": [0, 2.27], "nice": false, "zero": false}, "axis": null}}},
            {"mark": {"type": "rule", "color": "black", "strokeWidth": 1.3}, "encoding": {"x": {"datum": 0.8065, "type": "quantitative", "scale": {"domain": [1.52, 4], "nice": false, "zero": false}, "axis": null}, "y": {"datum": -0.8046, "type": "quantitative", "scale": {"domain": [0, 2.27], "nice": false, "zero": false}, "axis": null}, "y2": {"datum": 2.6442}}},
            {"mark": {"type": "rule", "color": "black", "strokeWidth": 1.3}, "encoding": {"x": {"datum": 0.8065, "type": "quantitative", "scale": {"domain": [1.52, 4], "nice": false, "zero": false}, "axis": null}, "x2": {"datum": 4.6146}, "y": {"datum": -0.8046, "type": "quantitative", "scale": {"domain": [0, 2.27], "nice": false, "zero": false}, "axis": null}}},
            {"mark": {"type": "rect", "filled": false, "stroke": "#3a3a3a", "strokeWidth": 1.1}, "encoding": {"x": {"datum": 1.0907, "type": "quantitative", "scale": {"domain": [1.52, 4], "nice": false, "zero": false}, "axis": {"orient": "bottom", "title": null, "labels": false, "domain": false, "tickCount": 25, "tickSize": -5, "tickWidth": 1.1}}, "x2": {"datum": 4.4068}, "y": {"datum": -0.3324, "type": "quantitative", "scale": {"domain": [0, 2.27], "nice": false, "zero": false}, "axis": {"orient": "left", "title": null, "labels": false, "domain": false, "tickCount": 23, "tickSize": -5, "tickWidth": 1.1}}, "y2": {"datum": 2.6346}}},
            {"mark": {"type": "text", "font": "Liberation Serif", "fontSize": 31.5, "align": "center", "baseline": "middle", "color": "black"}, "encoding": {"x": {"datum": 2.7443, "type": "quantitative", "scale": {"domain": [1.52, 4], "nice": false, "zero": false}, "axis": null}, "y": {"datum": -0.5897, "type": "quantitative", "scale": {"domain": [0, 2.27], "nice": false, "zero": false}, "axis": null}, "text": {"value": "t=0.1248"}}},
            {"data": {"name": "c6"}, "mark": {"type": "line", "strokeWidth": 3.3, "strokeOpacity": 0.72, "strokeCap": "butt", "strokeJoin": "round"},
             "encoding": {
               "x": {"field": "z", "type": "quantitative", "scale": {"domain": [1.52, 4], "nice": false, "zero": false}, "axis": {"orient": "bottom", "title": "'Z'", "tickCount": 5, "format": "~g", "tickSize": -9, "labelPadding": 14.5, "titlePadding": 1}},
               "y": {"field": "x", "type": "quantitative", "scale": {"domain": [0, 2.27], "nice": false, "zero": false}, "axis": {"orient": "left", "title": "'X'", "tickCount": 5, "format": "~g", "tickSize": -9, "labelPadding": 15, "titlePadding": 4}},
               "detail": {"field": "s", "type": "nominal"},
               "color": {"field": "vx", "type": "quantitative",
                 "scale": {"type": "threshold", "domain": [-2.5, -2, -1.5, -1, -0.5, 0, 0.5, 1, 1.5, 2, 2.5, 3], "range": ["#0000ff", "#0055ff", "#00aaff", "#00ffff", "#00ffaa", "#00ff55", "#00ff00", "#55ff00", "#aaff00", "#ffff00", "#ffaa00", "#ff5500", "#ff0000"]},
                 "legend": {"type": "gradient", "title": "'VX'", "orient": "none", "legendX": 262.5, "legendY": 38.7, "direction": "vertical", "gradientLength": 182.4, "gradientThickness": 14.3, "format": "~g", "labelExpr": "datum.value == null || !isFinite(datum.value) ? '' : replace(datum.label, '−', '-')", "encode": {"gradient": {"opacity": {"value": 1}, "stroke": {"value": "black"}, "strokeWidth": {"value": 0.8}}}}}
             }}
          ]
        }
      ]
    }
  ]
}
